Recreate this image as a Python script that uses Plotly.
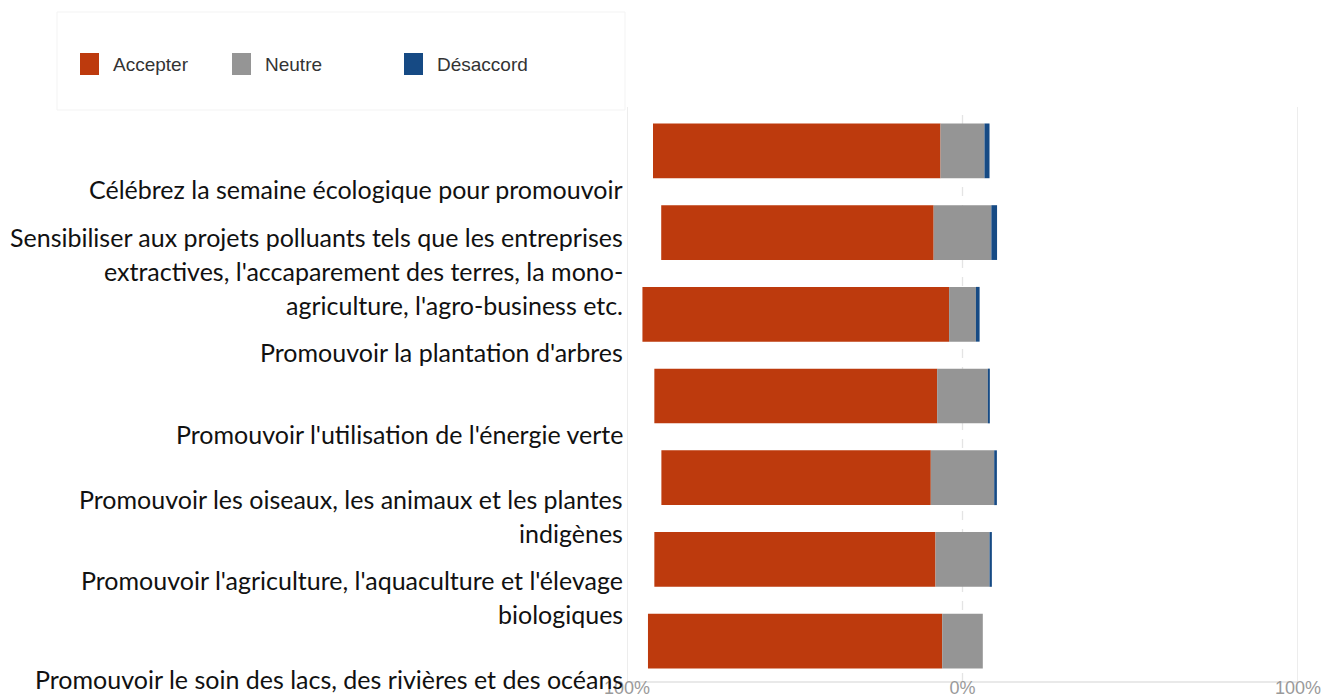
import plotly.graph_objects as go

# ---------------- data ----------------
questions = [
    "Célébrez la semaine écologique pour promouvoir",
    "Sensibiliser aux projets polluants tels que les entreprises<br>extractives, l'accaparement des terres, la mono-<br>agriculture, l'agro-business etc.",
    "Promouvoir la plantation d'arbres",
    "Promouvoir l'utilisation de l'énergie verte",
    "Promouvoir les oiseaux, les animaux et les plantes<br>indigènes",
    "Promouvoir l'agriculture, l'aquaculture et l'élevage<br>biologiques",
    "Promouvoir le soin des lacs, des rivières et des océans",
]
accepter = [85.7, 81.2, 91.4, 84.3, 80.3, 83.8, 87.7]
neutre = [13.1, 17.2, 8.0, 15.1, 18.9, 16.1, 12.1]
desaccord = [1.5, 1.7, 1.1, 0.6, 0.8, 0.7, 0.0]
series_names = ["Accepter", "Neutre", "Désaccord"]
tick_vals = [-100, 0, 100]
tick_text = ["100%", "0%", "100%"]

# ---------------- style ----------------
colors = ["#BD3A0D", "#959595", "#164A84"]
W, H = 1326, 697
# plot area in window pixels: x 627..1298, y 110..682
L, R = 627, W - 1298
T, B = 110, H - 682
PW, PH = W - L - R, H - T - B

def px_x(px):
    return (px - L) / PW

def px_y(py):
    return (H - B - py) / PH

fig = go.Figure()

half_neu = [n / 2 for n in neutre]
fig.add_trace(go.Bar(
    y=questions, x=accepter, base=[-(a + h) for a, h in zip(accepter, half_neu)],
    orientation="h", name=series_names[0], marker_color=colors[0],
    marker_line_width=0, showlegend=False))
fig.add_trace(go.Bar(
    y=questions, x=neutre, base=[-h for h in half_neu],
    orientation="h", name=series_names[1], marker_color=colors[1],
    marker_line_width=0, showlegend=False))
fig.add_trace(go.Bar(
    y=questions, x=desaccord, base=half_neu,
    orientation="h", name=series_names[2], marker_color=colors[2],
    marker_line_width=0, showlegend=False))

shapes = []
for v in tick_vals:
    shapes.append(dict(
        type="line", xref="x", yref="paper", x0=v, x1=v, y0=0, y1=px_y(107),
        line=dict(color="#e4e4e4", width=1.3, dash="dash" if v == 0 else "solid"),
        layer="below"))
shapes.append(dict(type="line", xref="paper", yref="paper", x0=0, x1=1.0, y0=0, y1=0,
                   line=dict(color="#e2e2e2", width=1.3), layer="below"))
shapes.append(dict(type="rect", xref="paper", yref="paper",
                   x0=px_x(57), x1=px_x(625), y0=px_y(110), y1=px_y(12),
                   line=dict(color="#f3f3f3", width=1), fillcolor="rgba(0,0,0,0)"))

annotations = []
legend_px = [80, 232, 404]
for name, col, x0 in zip(series_names, colors, legend_px):
    shapes.append(dict(type="rect", xref="paper", yref="paper",
                       x0=px_x(x0), x1=px_x(x0 + 19), y0=px_y(75), y1=px_y(53),
                       line=dict(width=0), fillcolor=col))
    annotations.append(dict(xref="paper", yref="paper", x=px_x(x0 + 31), y=px_y(65),
                            text=name, showarrow=False, xanchor="left", yanchor="middle",
                            font=dict(family="Liberation Sans, Arial", size=19, color="#333333")))

offset, line_h = 38, 34
for q in questions:
    lines = q.split("<br>")
    n = len(lines)
    for j, ln in enumerate(lines):
        annotations.append(dict(
            xref="paper", yref="y", x=0, y=q, xshift=-2,
            yshift=-(offset + (j - (n - 1) / 2) * line_h),
            text=ln, showarrow=False, xanchor="right", yanchor="middle",
            font=dict(family="Lato, Open Sans, sans-serif", size=25, color="#111111")))

fig.update_layout(
    width=W, height=H,
    margin=dict(l=L, r=R, t=T, b=B, autoexpand=False),
    barmode="overlay", bargap=0.33,
    plot_bgcolor="white", paper_bgcolor="white",
    shapes=shapes, annotations=annotations,
    xaxis=dict(range=[-100, 100], tickvals=tick_vals, ticktext=tick_text,
               showgrid=False, zeroline=False, showline=False, ticks="",
               ticklabelstandoff=-7, automargin=False,
               tickfont=dict(family="Liberation Sans, Arial", size=18, color="#9a9a9a")),
    yaxis=dict(range=[len(questions) - 0.5, -0.5], showticklabels=False, showgrid=False,
               zeroline=False, showline=False, ticks="", automargin=False),
)

fig.write_html("out.html", config={"displayModeBar": False},
               post_script="document.body.style.margin='0';document.body.style.overflow='hidden';")
